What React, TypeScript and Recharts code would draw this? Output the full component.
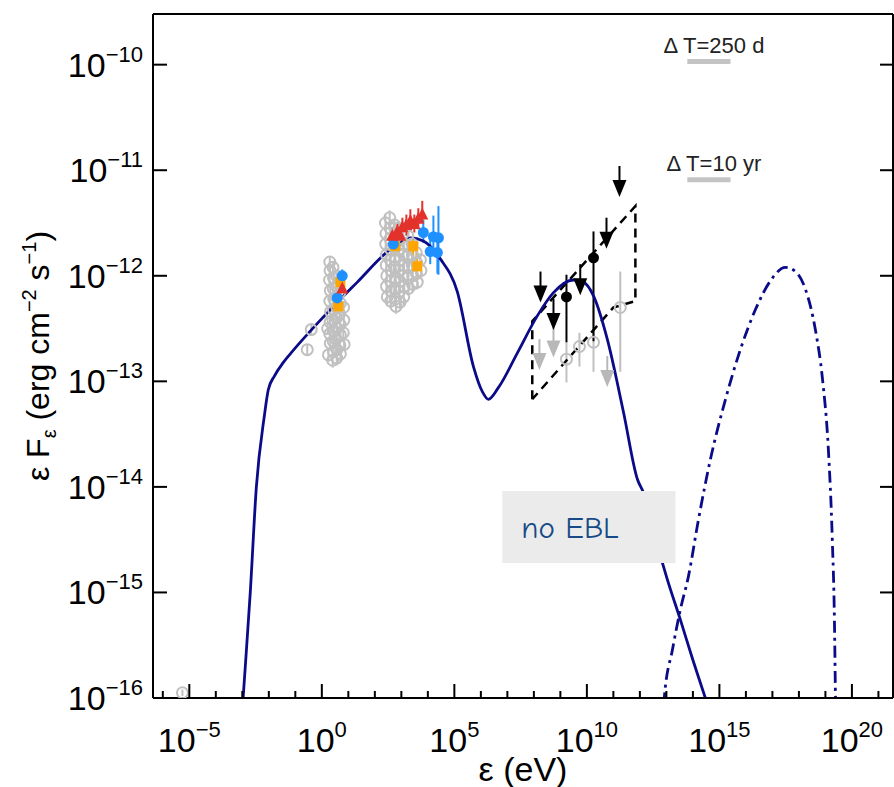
import React from "react";
import {
  ComposedChart,
  ErrorBar,
  Line,
  ReferenceArea,
  ReferenceLine,
  Scatter,
  XAxis,
  YAxis
} from "recharts";

// everything is stored as log10 values: x = log10(ε / eV), y = log10(εFε / erg cm⁻² s⁻¹)

const X_DOMAIN: [number, number] = [-6.37, 21.55];
const Y_DOMAIN: [number, number] = [-16, -9.52];
const xTicks = [-6, -5, -4, -3, -2, -1, 0, 1, 2, 3, 4, 5, 6, 7, 8, 9, 10, 11, 12, 13, 14, 15, 16, 17, 18, 19, 20, 21];
const yTicks = [-16, -15, -14, -13, -12, -11, -10];

// synchrotron + SSC model
const sscModel: [number, number][] = [
  [-3.05, -16.3], [-2.97, -16.0], [-2.7, -15.0], [-2.47, -14.0], [-2.17, -13.33], [-2.02, -13.08],
  [-1.79, -12.95], [-1.45, -12.82], [-1.19, -12.74], [0.06, -12.39], [1.34, -12.06], [2.58, -11.75],
  [3.34, -11.64], [3.83, -11.67], [4.47, -11.84], [5.11, -12.15], [5.72, -12.86], [6.06, -13.1],
  [6.28, -13.17], [6.66, -13.06], [7.38, -12.73], [8.13, -12.38], [8.74, -12.16], [9.49, -12.04],
  [9.87, -12.06], [10.25, -12.19], [10.77, -12.6], [11.38, -13.29], [11.91, -13.93], [12.13, -14.05],
  [12.85, -14.72], [13.04, -14.88], [13.53, -15.26], [14.0, -15.64], [14.47, -16.0], [14.75, -16.22]
];

// intrinsic VHE component without EBL absorption
const noEblModel: [number, number][] = [
  [12.85, -16.3], [12.92, -16.0], [13.23, -15.54], [13.53, -15.16], [13.83, -14.85], [14.21, -14.31],
  [14.66, -13.74], [15.23, -13.17], [15.79, -12.7], [16.36, -12.32], [16.92, -12.05], [17.49, -11.92],
  [17.87, -11.96], [18.25, -12.13], [18.62, -12.51], [18.89, -12.98], [19.11, -13.64], [19.26, -14.5],
  [19.34, -15.26], [19.38, -16.0], [19.4, -16.3]
];

// Fermi-LAT butterfly
const bowtie: [number, number][] = [
  [7.94, -13.17], [7.94, -12.43], [11.83, -11.34], [11.83, -12.24], [11.0, -12.3], [7.94, -13.17]
];

// archival points: [logE, logF, err]
const grayArchive: [number, number, number][] = [
  [-5.26, -15.95, 0.03],
  [-0.55, -12.7, 0.05], [-0.4, -12.51, 0.05], [0.25, -12.75, 0.06], [0.22, -12.5, 0.06],
  [0.3, -11.87, 0.05], [0.31, -11.95, 0.06], [0.29, -12.04, 0.07], [0.32, -12.14, 0.06], [0.3, -12.24, 0.07],
  [0.33, -12.34, 0.05], [0.31, -12.44, 0.06], [0.3, -12.55, 0.07], [0.32, -12.64, 0.05],
  [0.42, -11.92, 0.06], [0.44, -12.02, 0.05], [0.43, -12.12, 0.07], [0.45, -12.22, 0.06], [0.44, -12.32, 0.07],
  [0.42, -12.42, 0.06], [0.45, -12.52, 0.08], [0.43, -12.62, 0.07], [0.44, -12.72, 0.06], [0.41, -12.8, 0.07],
  [0.55, -12.0, 0.05], [0.56, -12.1, 0.06], [0.54, -12.2, 0.07], [0.57, -12.3, 0.06], [0.55, -12.4, 0.05],
  [0.56, -12.5, 0.07], [0.54, -12.6, 0.06], [0.57, -12.7, 0.08], [0.56, -12.78, 0.07],
  [0.68, -12.16, 0.06], [0.7, -12.26, 0.05], [0.67, -12.36, 0.07], [0.69, -12.46, 0.06], [0.7, -12.56, 0.05],
  [0.68, -12.66, 0.06], [0.7, -12.74, 0.07],
  [0.82, -12.3, 0.05], [0.83, -12.42, 0.06], [0.81, -12.54, 0.06], [0.84, -12.65, 0.05],
  [2.4, -11.5, 0.08], [2.42, -11.6, 0.07], [2.41, -11.7, 0.06], [2.44, -11.8, 0.08], [2.43, -11.9, 0.07],
  [2.45, -12.0, 0.06], [2.44, -12.1, 0.08], [2.47, -12.2, 0.07],
  [2.56, -11.45, 0.07], [2.58, -11.55, 0.06], [2.57, -11.65, 0.08], [2.6, -11.75, 0.07], [2.58, -11.85, 0.06],
  [2.61, -11.95, 0.08], [2.59, -12.05, 0.07], [2.62, -12.15, 0.06], [2.6, -12.24, 0.07],
  [2.74, -11.52, 0.06], [2.75, -11.62, 0.08], [2.73, -11.72, 0.07], [2.76, -11.82, 0.06], [2.74, -11.92, 0.07],
  [2.77, -12.02, 0.08], [2.75, -12.12, 0.06], [2.78, -12.22, 0.07], [2.8, -12.29, 0.07],
  [2.9, -11.55, 0.07], [2.92, -11.65, 0.06], [2.91, -11.75, 0.08], [2.93, -11.85, 0.07], [2.9, -11.95, 0.06],
  [2.94, -12.05, 0.08], [2.92, -12.15, 0.07], [2.95, -12.25, 0.06],
  [3.07, -11.6, 0.06], [3.09, -11.7, 0.07], [3.08, -11.8, 0.08], [3.1, -11.9, 0.06], [3.07, -12.0, 0.07],
  [3.11, -12.1, 0.06], [3.09, -12.2, 0.08],
  [3.24, -11.62, 0.07], [3.25, -11.72, 0.06], [3.23, -11.82, 0.08], [3.26, -11.92, 0.07], [3.24, -12.02, 0.06],
  [3.27, -12.12, 0.07],
  [3.4, -11.7, 0.06], [3.42, -11.8, 0.07], [3.41, -11.9, 0.08], [3.43, -12.0, 0.06], [3.42, -12.08, 0.07],
  [3.56, -11.78, 0.07], [3.58, -11.88, 0.06], [3.57, -11.98, 0.08], [3.6, -12.06, 0.07],
  [3.72, -11.85, 0.06], [3.74, -11.95, 0.07]
];

// [logE, logF, errLow, errHigh]
const grayLat: [number, number, number, number][] = [
  [9.23, -12.79, 0.22, 0.16], [9.72, -12.67, 0.19, 0.13], [10.25, -12.63, 0.28, 0.35], [11.26, -12.3, 0.61, 0.34]
];
const blackLat: [number, number, number, number][] = [
  [9.23, -12.2, 0.43, 0.21], [10.25, -11.83, 0.79, 0.25]
];
const blueSwift: [number, number, number, number][] = [
  [0.77, -12.0, 0.06, 0.06], [0.58, -12.21, 0.05, 0.05],
  [2.7, -11.7, 0.08, 0.1], [3.83, -11.59, 0.1, 0.12], [4.21, -11.63, 0.15, 0.2], [4.4, -11.64, 0.35, 0.3],
  [4.36, -11.78, 0.2, 0.15], [4.09, -11.77, 0.12, 0.15]
];
const orangeSwift: [number, number, number, number][] = [
  [0.7, -12.06, 0.05, 0.05], [0.62, -12.29, 0.06, 0.06], [3.45, -11.72, 0.1, 0.1], [3.6, -11.91, 0.12, 0.12], [2.77, -11.72, 0.1, 0.08]
];
const redSwift: [number, number, number, number][] = [
  [0.77, -12.12, 0.04, 0.04], [2.66, -11.62, 0.08, 0.08], [2.85, -11.58, 0.08, 0.09], [2.96, -11.62, 0.1, 0.08],
  [3.04, -11.54, 0.08, 0.09], [3.19, -11.52, 0.1, 0.1], [3.34, -11.48, 0.1, 0.11], [3.49, -11.51, 0.08, 0.09],
  [3.64, -11.46, 0.1, 0.1], [3.79, -11.42, 0.08, 0.13]
];

// upper limits
const blackUL: [number, number][] = [[8.25, -11.96], [8.74, -12.22], [9.75, -11.89], [10.74, -11.45], [11.23, -10.96]];
const grayUL: [number, number][] = [[8.21, -12.6], [8.74, -12.48], [10.77, -12.76]];

// variability time-scale bars
const dtBars = [
  { label: "Δ T=250 d", x1: 13.79, x2: 15.42, y: -9.97 },
  { label: "Δ T=10 yr", x1: 13.79, x2: 15.42, y: -11.09 }
];
const noEblBox = { x1: 6.81, x2: 13.34, y1: -14.72, y2: -14.04 };

const FONT = '"Liberation Sans", Arial, Helvetica, sans-serif';
const NAVY = "#0b0b8a";
const GRAY = "#c0c0c0";

const toLine = (pts: [number, number][]) => pts.map(([logE, logF]) => ({ logE, logF }));
const toErr = (pts: [number, number, number, number][]) =>
  pts.map(([logE, logF, lo, hi]) => ({ logE, logF, err: [lo, hi] }));

const sup = (v: number) => (v < 0 ? "\u2212" + Math.abs(v) : String(v));

function BottomTick(props: any) {
  const { x, y, payload } = props;
  const v = payload.value as number;
  const major = v % 5 === 0;
  return (
    <g>
      <line x1={x} x2={x} y1={y} y2={y - (major ? 14 : 7)} stroke="#000" strokeWidth={2} />
      {major && (
        <text x={x} y={y + 54} textAnchor="middle" fontSize={34} fontFamily={FONT} fill="#000">
          10<tspan dy={-15} fontSize={22}>{sup(v)}</tspan>
        </text>
      )}
    </g>
  );
}

function TopTick(props: any) {
  const { x, y, payload } = props;
  const major = (payload.value as number) % 5 === 0;
  return <line x1={x} x2={x} y1={y} y2={y + (major ? 14 : 7)} stroke="#000" strokeWidth={2} />;
}

function LeftTick(props: any) {
  const { x, y, payload } = props;
  return (
    <g>
      <line x1={x} x2={x + 14} y1={y} y2={y} stroke="#000" strokeWidth={2} />
      <text x={x - 10} y={y + 12} textAnchor="end" fontSize={34} fontFamily={FONT} fill="#000">
        10<tspan dy={-15} fontSize={22}>{sup(payload.value)}</tspan>
      </text>
    </g>
  );
}

function RightTick(props: any) {
  const { x, y } = props;
  return <line x1={x} x2={x - 13} y1={y} y2={y} stroke="#000" strokeWidth={2} />;
}

function XTitle(props: any) {
  const { viewBox } = props;
  const cx = viewBox.x + viewBox.width / 2;
  return (
    <text x={cx} y={viewBox.y + 83} textAnchor="middle" fontSize={34} fontFamily={FONT} fill="#000">
      ε (eV)
    </text>
  );
}

function YTitle(props: any) {
  const { viewBox } = props;
  const cy = viewBox.y + viewBox.height / 2;
  const bx = 49;
  return (
    <text
      x={bx}
      y={cy}
      transform={`rotate(-90, ${bx}, ${cy})`}
      textAnchor="middle"
      fontSize={32}
      fontFamily={FONT}
      fill="#000"
    >
      ε F<tspan fontSize={20} dy={7}>ε</tspan>
      <tspan dy={-7}> (erg cm</tspan>
      <tspan fontSize={20} dy={-13}>{"\u22122"}</tspan>
      <tspan dy={13}> s</tspan>
      <tspan fontSize={20} dy={-13}>{"\u22121"}</tspan>
      <tspan dy={13}>)</tspan>
    </text>
  );
}

const OpenCircle = (p: any) => (
  <circle cx={p.cx} cy={p.cy} r={5.5} fill="none" stroke={GRAY} strokeWidth={2} />
);
const FilledCircle = (color: string, r: number) => (p: any) =>
  <circle cx={p.cx} cy={p.cy} r={r} fill={color} />;
const Square = (p: any) => <rect x={p.cx - 5} y={p.cy - 5} width={10} height={10} fill="#ffa500" />;
const Triangle = (p: any) => (
  <polygon points={`${p.cx - 6},${p.cy + 5} ${p.cx + 6},${p.cy + 5} ${p.cx},${p.cy - 7}`} fill="#e3322b" />
);
const DownArrow = (color: string) => (p: any) => {
  const { cx, cy } = p;
  return (
    <g>
      <line x1={cx} x2={cx} y1={cy} y2={cy + 18} stroke={color} strokeWidth={2} />
      <polygon points={`${cx - 7},${cy + 14} ${cx + 7},${cy + 14} ${cx},${cy + 31}`} fill={color} />
    </g>
  );
};

function DtLabel(props: any) {
  const { viewBox, value } = props;
  const cx = viewBox.x + viewBox.width / 2 + 5;
  return (
    <text x={cx} y={viewBox.y - 9} textAnchor="middle" fontSize={22} fontFamily={FONT} fill="#222">
      {value}
    </text>
  );
}

function BoxLabel(props: any) {
  const { viewBox } = props;
  return (
    <text
      x={viewBox.x + 19}
      y={viewBox.y + viewBox.height / 2 + 11}
      fontSize={31}
      fontWeight={500}
      fontFamily='"Comic Sans MS", "Comic Neue", cursive'
      fill="#174a87"
    >
      no EBL
    </text>
  );
}

export default function App() {
  const axisLine = { stroke: "#000", strokeWidth: 2 };
  return (
    <div style={{ position: "absolute", left: 0, top: 0, width: 894, height: 787, background: "#fff" }}>
      <ComposedChart width={894} height={787} margin={{ top: 13, right: 0, bottom: 88, left: 0 }}>
        <XAxis
          dataKey="logE"
          type="number"
          domain={X_DOMAIN}
          ticks={xTicks}
          interval={0}
          allowDataOverflow
          height={1}
          tickSize={0}
          tickMargin={0}
          tickLine={false}
          axisLine={axisLine}
          tick={<BottomTick />}
          label={<XTitle />}
        />
        <XAxis
          xAxisId="top"
          orientation="top"
          type="number"
          domain={X_DOMAIN}
          ticks={xTicks}
          interval={0}
          allowDataOverflow
          height={1}
          tickSize={0}
          tickMargin={0}
          tickLine={false}
          axisLine={axisLine}
          tick={<TopTick />}
        />
        <YAxis
          dataKey="logF"
          type="number"
          domain={Y_DOMAIN}
          ticks={yTicks}
          interval={0}
          allowDataOverflow
          width={153}
          tickSize={0}
          tickMargin={0}
          tickLine={false}
          axisLine={axisLine}
          tick={<LeftTick />}
          label={<YTitle />}
        />
        <YAxis
          yAxisId="right"
          orientation="right"
          type="number"
          domain={Y_DOMAIN}
          ticks={yTicks}
          interval={0}
          allowDataOverflow
          width={1}
          tickSize={0}
          tickMargin={0}
          tickLine={false}
          axisLine={axisLine}
          tick={<RightTick />}
        />

        <Scatter data={toErr(grayArchive.map(([e, f, d]) => [e, f, d, d] as [number, number, number, number]))} shape={OpenCircle} isAnimationActive={false}>
          <ErrorBar dataKey="err" direction="y" width={0} stroke={GRAY} strokeWidth={2} />
        </Scatter>
        <Scatter data={toErr(grayLat)} shape={OpenCircle} isAnimationActive={false}>
          <ErrorBar dataKey="err" direction="y" width={0} stroke={GRAY} strokeWidth={2} />
        </Scatter>
        <Scatter data={toLine(grayUL)} shape={DownArrow("#b8b8b8")} isAnimationActive={false} />

        <Scatter data={toErr(orangeSwift)} shape={Square} isAnimationActive={false}>
          <ErrorBar dataKey="err" direction="y" width={0} stroke="#ffa500" strokeWidth={2} />
        </Scatter>
        <Scatter data={toErr(blueSwift)} shape={FilledCircle("#1e90ff", 5.5)} isAnimationActive={false}>
          <ErrorBar dataKey="err" direction="y" width={0} stroke="#1e90ff" strokeWidth={2} />
        </Scatter>
        <Scatter data={toErr(redSwift)} shape={Triangle} isAnimationActive={false}>
          <ErrorBar dataKey="err" direction="y" width={0} stroke="#e3322b" strokeWidth={2} />
        </Scatter>

        <Line
          data={toLine(bowtie)}
          dataKey="logF"
          type="linear"
          stroke="#000"
          strokeWidth={2.5}
          strokeDasharray="9 6"
          dot={false}
          isAnimationActive={false}
        />
        <Scatter data={toErr(blackLat)} shape={FilledCircle("#000", 5.5)} isAnimationActive={false}>
          <ErrorBar dataKey="err" direction="y" width={0} stroke="#000" strokeWidth={2} />
        </Scatter>
        <Scatter data={toLine(blackUL)} shape={DownArrow("#000")} isAnimationActive={false} />

        <Line
          data={toLine(sscModel)}
          dataKey="logF"
          type="monotone"
          stroke={NAVY}
          strokeWidth={2.8}
          dot={false}
          isAnimationActive={false}
        />
        <Line
          data={toLine(noEblModel)}
          dataKey="logF"
          type="monotone"
          stroke={NAVY}
          strokeWidth={2.8}
          strokeDasharray="12 5 3 5"
          dot={false}
          isAnimationActive={false}
        />

        {/* the label box sits on top of the model curve */}
        <ReferenceArea
          x1={noEblBox.x1}
          x2={noEblBox.x2}
          y1={noEblBox.y1}
          y2={noEblBox.y2}
          fill="#ebebeb"
          fillOpacity={1}
          stroke="none"
          zIndex={1000}
          label={<BoxLabel />}
        />
        {dtBars.map((b) => (
          <ReferenceLine
            key={b.label}
            segment={[{ x: b.x1, y: b.y }, { x: b.x2, y: b.y }]}
            stroke="#c4c4c4"
            strokeWidth={5}
            label={<DtLabel value={b.label} />}
          />
        ))}
      </ComposedChart>
    </div>
  );
}
